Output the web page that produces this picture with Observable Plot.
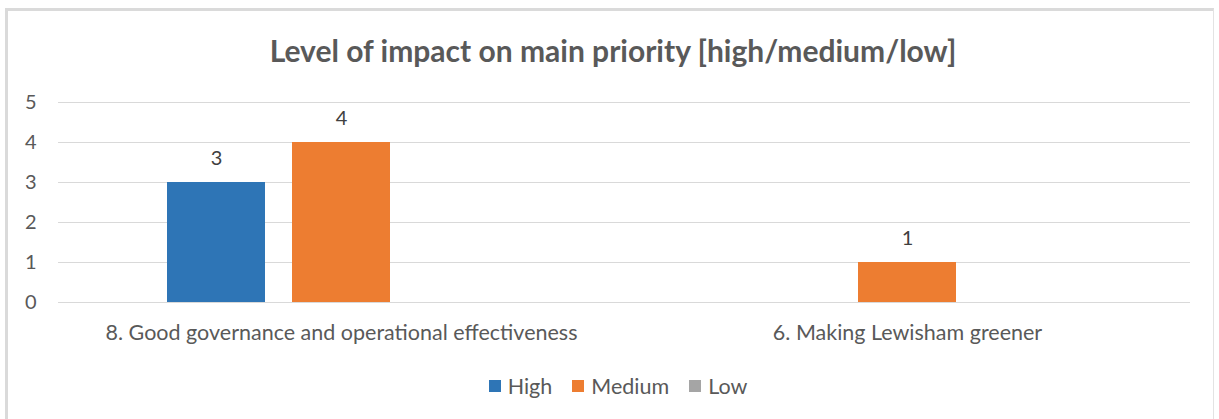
<!DOCTYPE html>
<html>
<head>
<meta charset="utf-8">
<script src="https://cdn.jsdelivr.net/npm/d3@7"></script>
<script src="https://cdn.jsdelivr.net/npm/@observablehq/plot@0.6"></script>
<style>
  html, body { margin: 0; padding: 0; background: #fff; width: 1219px; height: 419px; overflow: hidden; }
  body { font-family: Lato, "Open Sans", sans-serif; color: #595959; }
  #frame { position: absolute; left: 5px; top: 8px; width: 1209px; height: 420px;
           border-left: 3px solid #dadada; border-top: 3px solid #dadada; border-right: 1px solid #e3e3e3; box-sizing: border-box; }
  #title { position: absolute; left: 0; width: 1226px; top: 32px; text-align: center;
           font-size: 30px; font-weight: 700; color: #595959; line-height: 36px; }
  #chart { position: absolute; left: 0; top: 90px; }
  #legend { position: absolute; left: 0; width: 1236px; top: 374px; display: flex; justify-content: center;
            align-items: center; font-size: 21.5px; color: #595959; line-height: 24px; }
  .item { display: flex; align-items: center; margin: 0 10px; }
  .sw { width: 12px; height: 12px; margin-right: 7px; }
</style>
</head>
<body>
<div id="frame"></div>
<div id="title"></div>
<div id="chart"></div>
<div id="legend"></div>
<script>
const titleText = "Level of impact on main priority [high/medium/low]";
const categories = ["8. Good governance and operational effectiveness", "6. Making Lewisham greener"];
const series = ["High", "Medium", "Low"];
const highValues = [3, 0];
const mediumValues = [4, 1];
const lowValues = [0, 0];
const yTicks = [0, 1, 2, 3, 4, 5];
const colors = ["#2E75B6", "#ED7D31", "#A5A5A5"];

const valuesBySeries = [highValues, mediumValues, lowValues];
const data = [];
categories.forEach((c, i) => series.forEach((s, j) => data.push({category: c, series: s, value: valuesBySeries[j][i]})));

document.getElementById("title").textContent = titleText;

const chart = Plot.plot({
  width: 1219,
  height: 260,
  marginLeft: 58,
  marginRight: 29,
  marginTop: 12,
  marginBottom: 48,
  style: {fontFamily: "Lato, 'Open Sans', sans-serif", fontSize: "20px", color: "#595959", background: "transparent"},
  fx: {domain: categories, padding: 0, label: null},
  x: {domain: series, paddingInner: 0.216, paddingOuter: 0.872, axis: null},
  y: {domain: [0, 5], label: null},
  color: {domain: series, range: colors},
  marks: [
    Plot.gridY(yTicks, {stroke: "#d9d9d9", strokeOpacity: 1, strokeWidth: 1.2}),
    Plot.axisY(yTicks, {tickSize: 0, tickPadding: 22, label: null, fontSize: 20, fill: "#595959"}),
    Plot.axisFx({anchor: "bottom", tickSize: 0, tickPadding: 22, label: null, fontSize: 21.5, fill: "#595959"}),
    Plot.barY(data, {fx: "category", x: "series", y: "value", fill: "series"}),
    Plot.text(data.filter(d => d.value > 0), {fx: "category", x: "series", y: "value", text: d => String(d.value), dy: -24, fontSize: 20, fill: "#404040"})
  ]
});
document.getElementById("chart").appendChild(chart);

const legend = document.getElementById("legend");
series.forEach((s, i) => {
  const item = document.createElement("div");
  item.className = "item";
  const sw = document.createElement("span");
  sw.className = "sw";
  sw.style.background = colors[i];
  const t = document.createElement("span");
  t.textContent = s;
  item.appendChild(sw);
  item.appendChild(t);
  legend.appendChild(item);
});
</script>
</body>
</html>
